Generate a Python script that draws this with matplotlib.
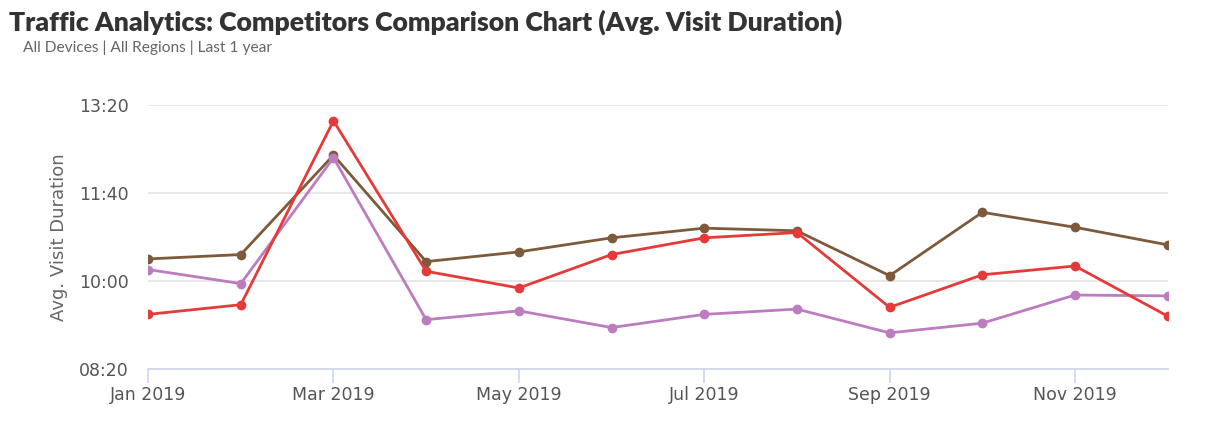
import matplotlib.pyplot as plt
from matplotlib.ticker import FuncFormatter

# avg visit duration in seconds, Jan..Dec 2019
months = ["Jan", "Feb", "Mar", "Apr", "May", "Jun",
          "Jul", "Aug", "Sep", "Oct", "Nov", "Dec"]
brown_vals = [625, 630, 743, 622, 633, 649, 660, 657, 606, 678, 661, 641]
red_vals = [562, 573, 782, 611, 592, 630, 649, 655, 570, 607, 617, 560]
purple_vals = [613, 597, 740, 556, 566, 547, 562, 568, 541, 552, 584, 583]
yticks = [500, 600, 700, 800]


def mmss(v, pos):
    v = int(round(v))
    return "{:02d}:{:02d}".format(v // 60, v % 60)


fig = plt.figure(figsize=(12.24, 4.32), dpi=100)
ax = fig.add_axes([0.121, 0.146, 0.833, 0.611])

x = list(range(len(months)))
ax.plot(x, brown_vals, color="#7d5a3b", lw=2, marker="o", ms=6, zorder=3)
ax.plot(x, purple_vals, color="#bc7cbf", lw=2, marker="o", ms=6, zorder=3)
ax.plot(x, red_vals, color="#e53a3a", lw=2, marker="o", ms=6, zorder=4)

ax.set_xlim(0, 11)
ax.set_ylim(500, 800)
ax.set_yticks(yticks)
ax.yaxis.set_major_formatter(FuncFormatter(mmss))
ax.set_xticks(x[::2])
ax.set_xticklabels([m + " 2019" for m in months[::2]])

ax.grid(axis="y", color="#e3e3e3", lw=1.2)
ax.set_axisbelow(True)
for s in ["left", "right", "top"]:
    ax.spines[s].set_visible(False)
ax.spines["bottom"].set_color("#ccd6eb")
ax.spines["bottom"].set_linewidth(1.2)
ax.tick_params(axis="x", colors="#ccd6eb", length=10, width=1.2,
               labelcolor="#555555", labelsize=12.5, pad=2)
ax.tick_params(axis="y", length=0, labelcolor="#555555", labelsize=12.5, pad=14)

ax.set_ylabel("Avg. Visit Duration", color="#666666", fontsize=13, labelpad=8)

fig.text(0.007, 0.948, "Traffic Analytics: Competitors Comparison Chart (Avg. Visit Duration)",
         fontsize=19.2, fontweight="heavy", color="#333333", family="Lato", va="center")
fig.text(0.019, 0.889, "All Devices | All Regions | Last 1 year",
         fontsize=11.2, color="#666666", family="Lato", va="center")

fig.savefig("out.png", dpi=100)
